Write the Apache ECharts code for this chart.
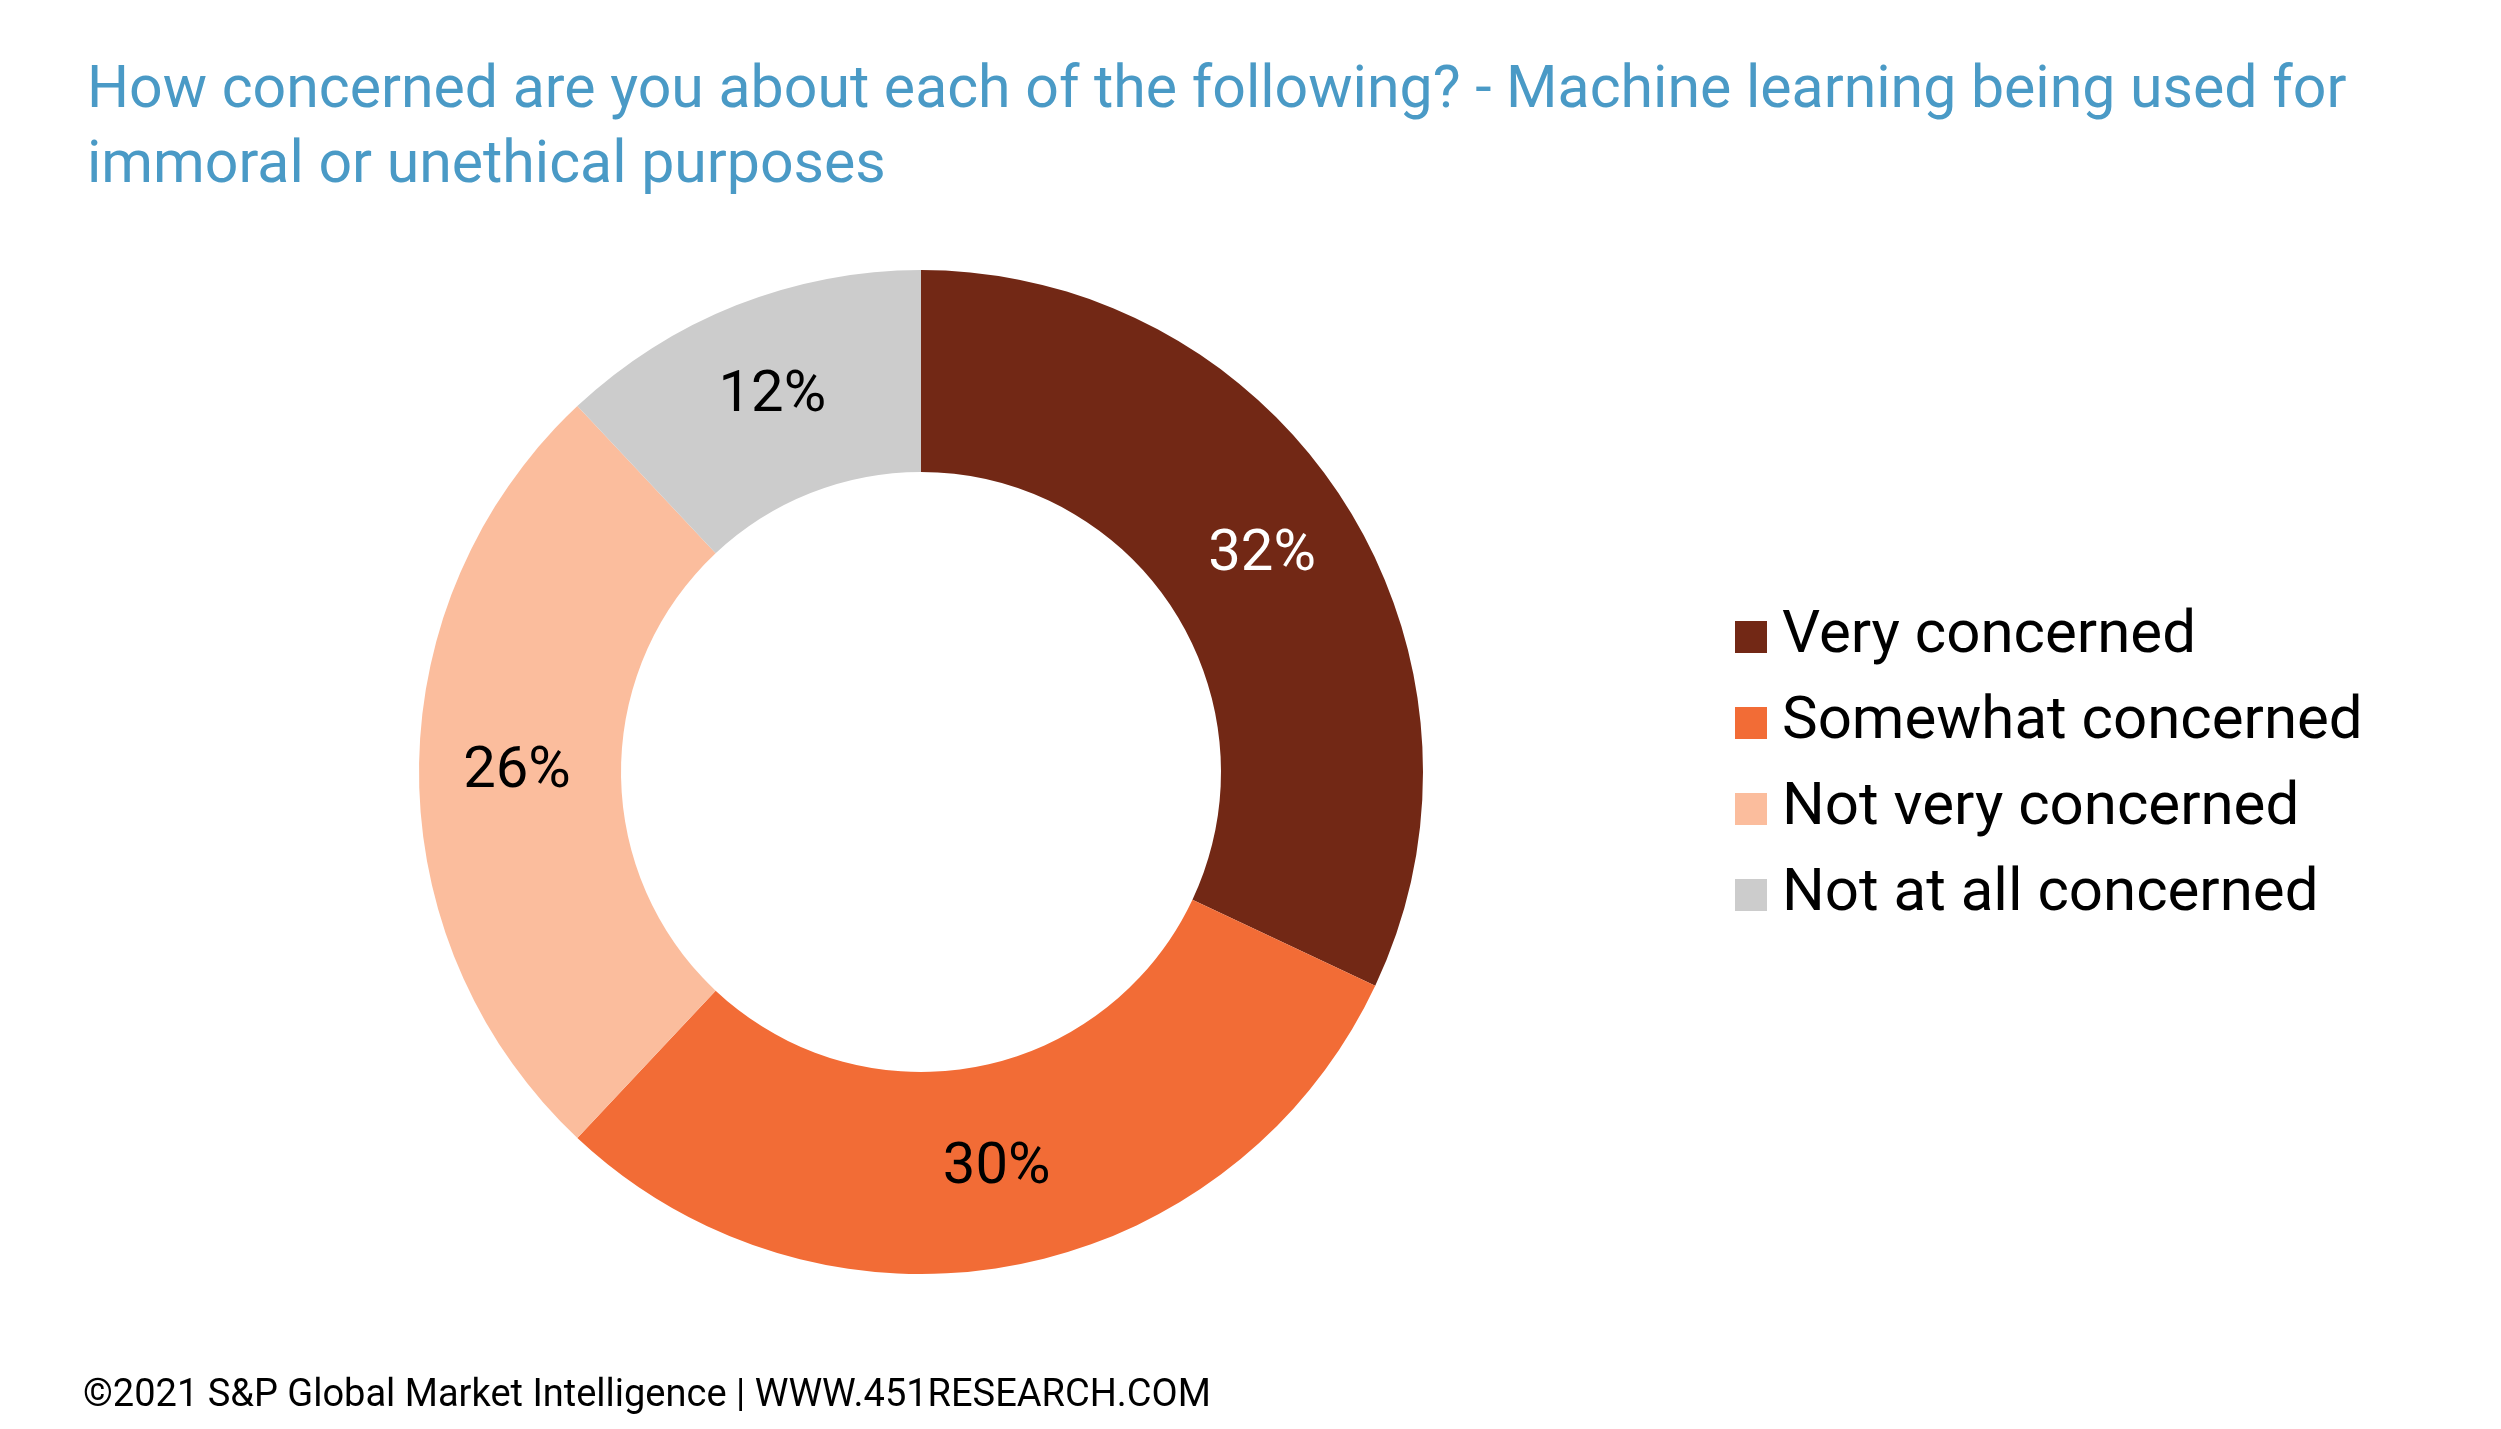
<!DOCTYPE html>
<html><head><meta charset="utf-8">
<script src="https://cdn.jsdelivr.net/npm/echarts@6/dist/echarts.min.js"></script>
<style>html,body{margin:0;background:#fff}#c{width:2501px;height:1429px}</style>
</head><body><div id="c"></div>
<script>
const categories = ["Very concerned","Somewhat concerned","Not very concerned","Not at all concerned"];
const values = [32,30,26,12];
const colors = ["#722815","#f26c36","#fbbd9d","#cccccc"];
const labelColors = ["#ffffff","#000000","#000000","#000000"];
const chart = echarts.init(document.getElementById('c'));
chart.setOption({
  backgroundColor:'#fff',
  title:[{text:"How concerned are you about each of the following? - Machine learning being used for\nimmoral or unethical purposes",
    left:82, top:50, textStyle:{color:'#4a9ac6',fontSize:59,fontWeight:'normal',fontFamily:'Roboto',lineHeight:75}},
    {text:"©2021 S&P Global Market Intelligence | WWW.451RESEARCH.COM", left:78, top:1372,
     textStyle:{color:'#000',fontSize:38,fontWeight:'normal',fontFamily:'Roboto'}}],
  legend:{orient:'vertical', left:1730, top:602, itemWidth:32, itemHeight:32, itemGap:26, icon:'rect',
    textStyle:{fontSize:60,color:'#000',fontFamily:'Roboto',padding:[0,0,0,10]}, data:categories},
  series:[{type:'pie', center:[921,772], radius:[300,502], startAngle:90, clockwise:true,
    silent:true,
    label:{position:'inside', fontSize:58, fontFamily:'Roboto', formatter:'{c}%'},
    labelLine:{show:false},
    data:categories.map((n,i)=>({name:n,value:values[i],itemStyle:{color:colors[i]},label:{color:labelColors[i]}}))
  }]
});
</script></body></html>
